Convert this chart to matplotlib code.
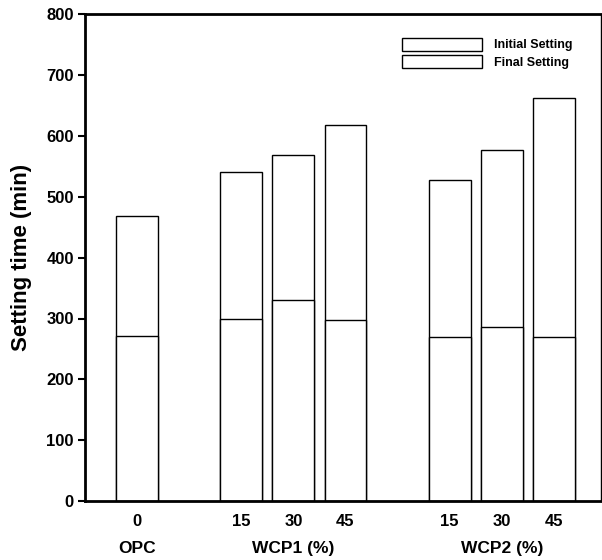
import matplotlib.pyplot as plt
import numpy as np

# values
positions = [0, 2, 3, 4, 6, 7, 8]
tick_labels = ["0", "15", "30", "45", "15", "30", "45"]
groups = ["OPC", "WCP1 (%)", "WCP2 (%)"]
group_pos = [0, 3, 7]
initial_setting = [468, 540, 568, 618, 527, 576, 662]
final_setting = [272, 300, 331, 297, 270, 286, 270]

plt.rcParams['font.family'] = ['Liberation Sans', 'DejaVu Sans']
plt.rcParams['font.weight'] = 'bold'

fig = plt.figure(figsize=(6.02, 5.6), dpi=100)
ax = fig.add_axes([0.141, 0.105, 0.857, 0.870])

ax.bar(positions, initial_setting, width=0.8, color='white', edgecolor='black',
       linewidth=1.0, label='Initial Setting')
ax.bar(positions, final_setting, width=0.8, color='white', edgecolor='black',
       linewidth=1.0, label='Final Setting')

ax.set_xlim(-1, 8.9)
ax.set_ylim(0, 800)
ax.set_yticks(np.arange(0, 801, 100))
ax.tick_params(axis='y', direction='out', length=5, width=1.5, labelsize=12, pad=3)
ax.set_xticks(positions)
ax.set_xticklabels(tick_labels, fontsize=12, fontweight='bold')
ax.tick_params(axis='x', length=0, pad=9)
for lab in ax.get_yticklabels():
    lab.set_fontweight('bold')

for g, p in zip(groups, group_pos):
    ax.text(p, -0.097, g, transform=ax.get_xaxis_transform(), ha='center', va='center',
            fontsize=12.5, fontweight='bold')

ax.set_ylabel("Setting time (min)", fontsize=16, fontweight='bold', labelpad=10)

for side in ['left', 'bottom', 'top']:
    ax.spines[side].set_linewidth(2)
ax.spines['right'].set_linewidth(1)

leg = ax.legend(loc='upper right', bbox_to_anchor=(0.946, 0.951), frameon=False,
                fontsize=9, handlelength=6.4, handleheight=1.2, labelspacing=0.32,
                handletextpad=1.0, borderaxespad=0, borderpad=0)
for t in leg.get_texts():
    t.set_fontweight('bold')

fig.savefig("out.png", dpi=100)
